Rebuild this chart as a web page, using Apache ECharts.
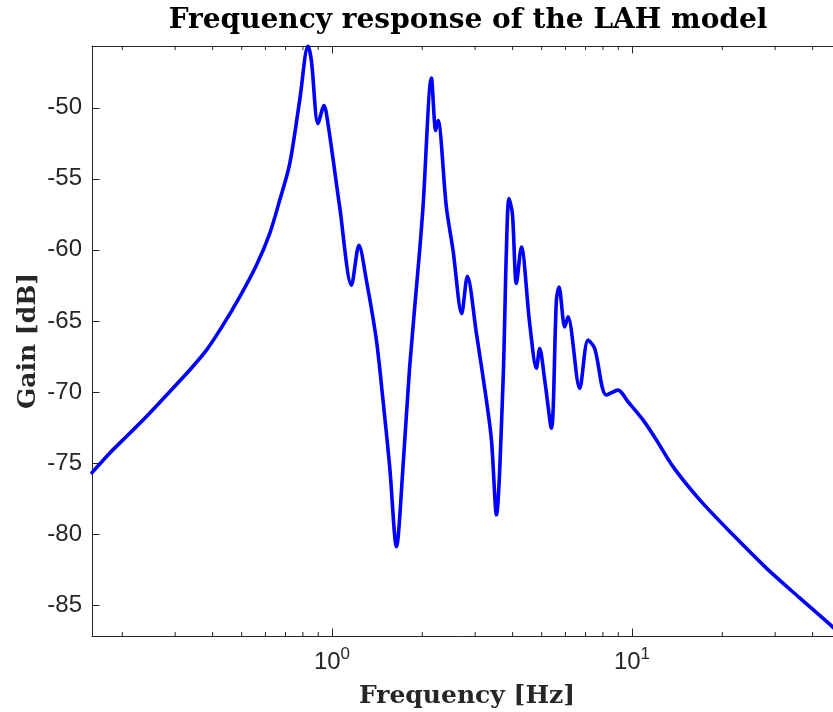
<!DOCTYPE html>
<html><head><meta charset="utf-8">
<script src="https://cdn.jsdelivr.net/npm/echarts@6/dist/echarts.min.js"></script>
<style>html,body{margin:0;padding:0;background:#fff}#c{width:833px;height:712px}</style>
</head><body><div id="c"></div>
<script>
// Frequency (Hz) and gain (dB)
const freqHz = [0.1585,0.1815,0.2118,0.2467,0.2877,0.3355,0.3815,0.4331,0.4924,0.5598,0.6199,0.6693,0.7228,0.7802,0.8318,0.8538,0.8984,0.9404,0.9698,1.061,1.161,1.230,1.302,1.406,1.479,1.557,1.640,1.725,1.815,1.960,2.011,2.145,2.217,2.256,2.406,2.532,2.706,2.827,3.030,3.271,3.400,3.532,3.715,3.814,3.890,3.993,4.118,4.279,4.560,4.801,4.924,5.117,5.387,5.598,5.711,5.967,6.120,6.694,7.135,7.511,8.215,8.982,9.698,10.88,12.06,13.70,16.82,21.71,28.05,36.22,46.42,50.12];
const gainDb = [-75.68,-74.31,-72.91,-71.50,-69.99,-68.46,-67.06,-65.30,-63.31,-61.08,-58.85,-56.51,-53.94,-49.49,-45.65,-46.68,-51.12,-49.84,-51.12,-56.99,-62.49,-59.68,-62.14,-66.35,-70.57,-75.26,-80.90,-75.26,-68.23,-60.03,-56.99,-47.90,-51.60,-50.89,-56.99,-60.03,-64.48,-61.86,-65.88,-70.57,-73.38,-78.65,-69.40,-60.00,-56.39,-57.45,-62.37,-59.80,-65.18,-68.34,-66.94,-69.16,-72.56,-63.54,-62.61,-65.42,-64.72,-69.75,-66.35,-66.94,-70.22,-69.87,-70.69,-71.97,-73.38,-75.26,-77.60,-80.06,-82.40,-84.50,-86.50,-87.18];
const xRange = [0.1585, 50.12];
const yRange = [-87.18, -45.65];
const xMajorExponents = [0, 1];
const xMinorTicks = [0.2,0.3,0.4,0.5,0.6,0.7,0.8,0.9,2,3,4,5,6,7,8,9,20,30,40,50];
const titleText = 'Frequency response of the LAH model';
const xName = 'Frequency [Hz]';
const yName = 'Gain [dB]';

const axisColor = '#262626';
const lineData = freqHz.map((f, i) => [f, gainDb[i]]);
const chart = echarts.init(document.getElementById('c'), null, {renderer: 'canvas'});

const labelFont = {fontFamily: 'Liberation Sans', fontSize: 24, color: axisColor};
const nameFont = {fontFamily: 'DejaVu Serif', fontWeight: 'bold', fontSize: 25, color: axisColor};

function xAxisCfg(pos, showLabels) {
  return {
    type: 'log', logBase: 10, min: xRange[0], max: xRange[1], position: pos,
    gridIndex: 0,
    axisLine: {show: true, lineStyle: {color: axisColor, width: 1}},
    axisTick: {show: true, inside: true, length: 7.5, lineStyle: {color: axisColor, width: 1}},
    splitLine: {show: false},
    axisLabel: {
      show: showLabels, margin: 10, showMinLabel: false, showMaxLabel: false,
      fontFamily: 'Liberation Sans', fontSize: 24, color: axisColor,
      formatter: function (v) {
        const e = Math.round(Math.log10(v));
        if (xMajorExponents.indexOf(e) < 0) return '';
        return '{b|10}{s|' + e + '}';
      },
      rich: {
        b: {fontFamily: 'Liberation Sans', fontSize: 24, color: axisColor, verticalAlign: 'bottom', lineHeight: 28},
        s: {fontFamily: 'Liberation Sans', fontSize: 17, color: axisColor, verticalAlign: 'top', lineHeight: 28, padding: [0, 0, 10, 0]}
      }
    },
    name: showLabels ? xName : '', nameLocation: 'middle', nameGap: 48,
    nameTextStyle: nameFont
  };
}
function yAxisCfg(pos, showLabels) {
  return {
    type: 'value', min: yRange[0], max: yRange[1], minInterval: 5, maxInterval: 5, position: pos,
    gridIndex: 0,
    axisLine: {show: true, lineStyle: {color: axisColor, width: 1}},
    axisTick: {show: true, inside: true, length: 7.5, lineStyle: {color: axisColor, width: 1}},
    splitLine: {show: false},
    axisLabel: Object.assign({show: showLabels, margin: 10, showMinLabel: false, showMaxLabel: false}, labelFont),
    name: showLabels ? yName : '', nameLocation: 'middle', nameGap: 51, nameRotate: 90,
    nameMoveOverlap: false,
    nameTextStyle: nameFont
  };
}

chart.setOption({
  animation: false,
  backgroundColor: '#ffffff',
  grid: {left: 92, top: 46, width: 750, height: 590, containLabel: false, outerBoundsMode: 'none'},
  xAxis: [xAxisCfg('bottom', true), xAxisCfg('top', false)],
  yAxis: [yAxisCfg('left', true), yAxisCfg('right', false)],
  graphic: [{
    type: 'text', x: 468, y: 7,
    style: {text: titleText, fontFamily: 'DejaVu Serif', fontWeight: 'bold', fontSize: 28, fill: '#000', textAlign: 'center', textVerticalAlign: 'top'}
  }],
  series: [
    {
      type: 'line', xAxisIndex: 0, yAxisIndex: 0, data: lineData,
      showSymbol: false, smooth: 0.3, clip: true,
      lineStyle: {color: '#0000ff', width: 3.6, cap: 'round', join: 'round'}
    },
    {
      type: 'custom', xAxisIndex: 0, yAxisIndex: 0, data: xMinorTicks, silent: true,
      renderItem: function (params, api) {
        const v = api.value(0);
        const b = api.coord([v, yRange[0]]);
        const t = api.coord([v, yRange[1]]);
        const st = {stroke: axisColor, lineWidth: 1};
        return {type: 'group', children: [
          {type: 'line', shape: {x1: b[0], y1: b[1], x2: b[0], y2: b[1] - 4}, style: st},
          {type: 'line', shape: {x1: t[0], y1: t[1], x2: t[0], y2: t[1] + 4}, style: st}
        ]};
      }
    }
  ]
});
</script>
</body></html>
